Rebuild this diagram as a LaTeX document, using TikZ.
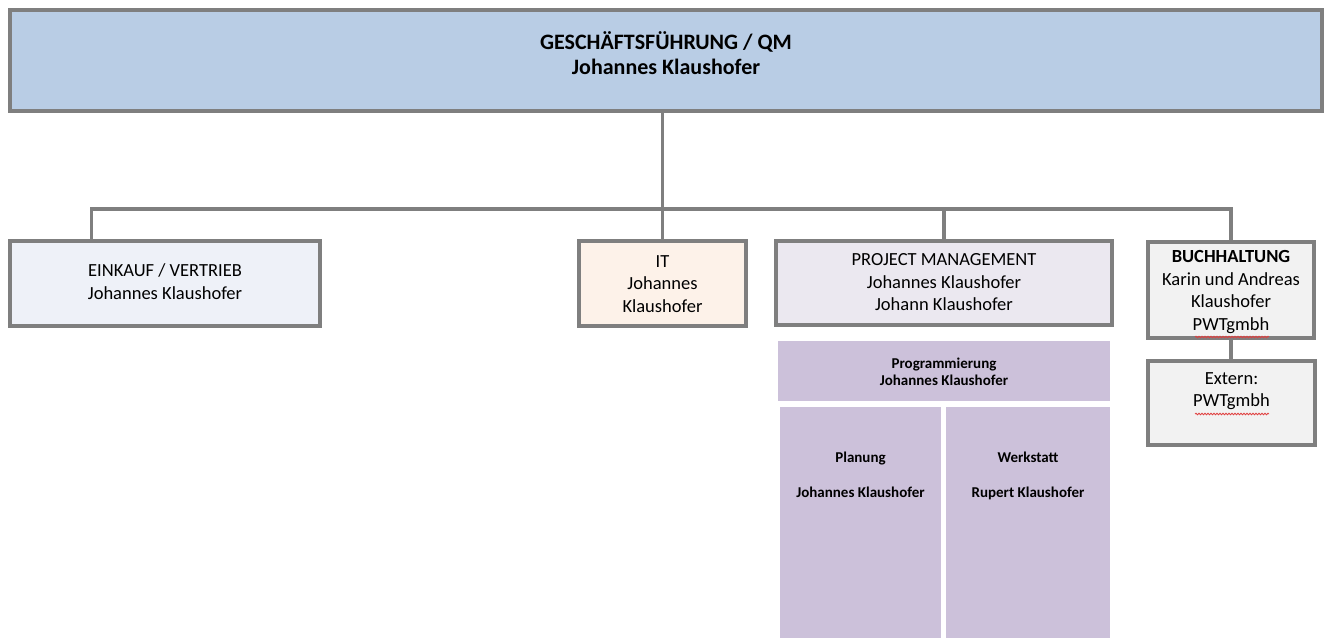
\documentclass[tikz,border=0pt]{standalone}
\usepackage{fontspec}
\setmainfont{Carlito}
\usetikzlibrary{decorations.pathmorphing,calc}
\definecolor{bordergray}{HTML}{7F7F7F}
\definecolor{topblue}{HTML}{B9CDE5}
\definecolor{einkfill}{HTML}{EEF1F8}
\definecolor{itfill}{HTML}{FDF2E9}
\definecolor{pmfill}{HTML}{EBE8F0}
\definecolor{bchfill}{HTML}{F2F2F2}
\definecolor{purplefill}{HTML}{CCC1DA}
\definecolor{spellred}{HTML}{E04040}
\tikzset{
  orgbox/.style={draw=bordergray, line width=4pt, rectangle, inner sep=0pt},
  subbox/.style={rectangle, fill=purplefill, inner sep=0pt},
  conn/.style={draw=bordergray, line width=3.5pt},
  txt/.style={inner sep=0pt, align=center, font=\fontsize{18.5}{22.5}\selectfont},
  txtb/.style={inner sep=0pt, align=center, font=\fontsize{22}{25}\selectfont\bfseries},
  smalltxt/.style={inner sep=0pt, align=center, font=\fontsize{15}{17}\selectfont\bfseries},
  spell/.style={draw=spellred, line width=0.8pt, decorate, decoration={snake, amplitude=0.8pt, segment length=3pt}}
}
\begin{document}
\begin{tikzpicture}[x=1pt,y=-1pt]
\useasboundingbox (0,0) rectangle (1324,637);
\begin{scope}
\clip (0,0) rectangle (1324,637);
% boxes
\node[orgbox, fill=topblue, minimum width=1312pt, minimum height=101pt] (top) at (666,60.5) {};
\node[orgbox, fill=einkfill, minimum width=310pt, minimum height=85pt] (eink) at (165,283.5) {};
\node[orgbox, fill=itfill, minimum width=167pt, minimum height=85pt] (it) at (662.5,283.5) {};
\node[orgbox, fill=pmfill, minimum width=336pt, minimum height=84pt] (pm) at (944,283) {};
\node[orgbox, fill=bchfill, minimum width=166pt, minimum height=96pt] (bch) at (1231,290) {};
\node[orgbox, fill=bchfill, minimum width=167pt, minimum height=84pt] (ext) at (1231.5,403) {};
\node[subbox, minimum width=332pt, minimum height=60pt] (prog) at (944,371) {};
\node[subbox, minimum width=161pt, minimum height=233pt] (plan) at (860.5,523.5) {};
\node[subbox, minimum width=164pt, minimum height=233pt] (werk) at (1028,523.5) {};
% connectors
\coordinate (einkdrop) at ($(eink.north west)!0.266!(eink.north east)$);
\draw[conn] (it.north |- top.south) -- (it.north);
\draw[conn] (einkdrop) -- ++(0,-30) -| (bch.north);
\draw[conn] (pm.north) -- ++(0,-30);
\draw[conn] (bch.south) -- (bch.south |- ext.north);
% texts
\node[txtb] (ttop) at (666,53.5) {GESCHÄFTSFÜHRUNG / QM\\Johannes Klaushofer};
\node[txt] (teink) at (165,281.5) {EINKAUF / VERTRIEB\\Johannes Klaushofer};
\node[txt] (tit) at (662.5,284) {IT\\Johannes\\Klaushofer};
\node[txt] (tpm) at (944,282.5) {PROJECT MANAGEMENT\\Johannes Klaushofer\\Johann Klaushofer};
\node[txt] (tbch) at (1231,292) {\textbf{BUCHHALTUNG}\\Karin und Andreas\\Klaushofer\\PWTgmbh};
\node[txt] (text) at (1231.5,391) {Extern:\\PWTgmbh};
\node[smalltxt] (tprog) at (944,371.5) {Programmierung\\Johannes Klaushofer};
\node[smalltxt, anchor=north] (tplan) at (860.5,452) {Planung\\[18pt]Johannes Klaushofer};
\node[smalltxt, anchor=north] (twerk) at (1028,452) {Werkstatt\\[18pt]Rupert Klaushofer};
% spell-check marks
\draw[spell] (1195,337) -- (1269,337);
\draw[spell] (1195,414) -- (1269,414);
\end{scope}
\end{tikzpicture}
\end{document}
